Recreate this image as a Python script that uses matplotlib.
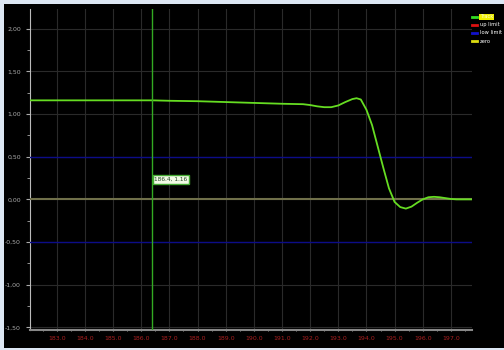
import numpy as np
import matplotlib.pyplot as plt
from matplotlib.patches import Rectangle
from matplotlib.lines import Line2D
from matplotlib.ticker import MultipleLocator, FuncFormatter

# track signal
track_x = [182.05, 183.0, 184.0, 185.0, 186.0, 186.4, 187.0, 188.0, 189.0, 190.0,
           191.0, 191.75, 192.0, 192.25, 192.5, 192.75, 193.0, 193.25, 193.5, 193.65,
           193.8, 194.0, 194.2, 194.4, 194.6, 194.8, 195.0, 195.2, 195.4, 195.6,
           195.8, 196.0, 196.2, 196.4, 196.6, 196.8, 197.0, 197.2, 197.75]
track_y = [1.16, 1.16, 1.16, 1.16, 1.16, 1.16, 1.155, 1.15, 1.14, 1.13,
           1.12, 1.115, 1.105, 1.09, 1.08, 1.08, 1.10, 1.14, 1.175, 1.185,
           1.17, 1.05, 0.87, 0.62, 0.37, 0.13, -0.03, -0.09, -0.108, -0.085,
           -0.04, 0.0, 0.025, 0.03, 0.025, 0.015, 0.005, 0.0, 0.0]

low_limit = [0.5, -0.5]
zero = 0.0
cursor_x, cursor_y = 186.4, 1.16
legend_labels = ['Track', 'up limit', 'low limit', 'zero']
legend_colors = ['#33dd22', '#dd1111', '#1111cc', '#dddd11']

fig = plt.figure(figsize=(5.04, 3.5), dpi=100, facecolor='#dde7f4')
fig.patches.append(Rectangle((4 / 504, 2 / 350), 1, 344 / 350, transform=fig.transFigure,
                             facecolor='black', edgecolor='none', zorder=-5))

ax = fig.add_axes([30 / 504, 20 / 350, 442 / 504, 321 / 350])
ax.set_facecolor('black')
ax.set_xlim(182.05, 197.75)
ax.set_ylim(-1.53, 2.23)

ax.xaxis.set_major_locator(MultipleLocator(1.0))
ax.xaxis.set_minor_locator(MultipleLocator(0.5))
ax.yaxis.set_major_locator(MultipleLocator(0.5))
ax.yaxis.set_minor_locator(MultipleLocator(0.25))
ax.xaxis.set_major_formatter(FuncFormatter(lambda v, p: f"{v:.1f}"))
ax.yaxis.set_major_formatter(FuncFormatter(lambda v, p: f"{v:.2f}".replace('.', ',')))
ax.grid(True, which='major', color='#2a2a2a', linewidth=0.8)

for s in ['top', 'right']:
    ax.spines[s].set_visible(False)
ax.spines['left'].set_color('#bbbbbb')
ax.spines['bottom'].set_color('#888888')
ax.spines['bottom'].set_linewidth(1.5)
ax.tick_params(axis='y', which='both', colors='#aaaaaa', labelsize=4.5, length=3)
ax.tick_params(axis='y', which='minor', length=2)
ax.tick_params(axis='x', which='both', colors='#aaaaaa', labelcolor='#aa2020',
               labelsize=4.5, length=2, direction='inout')

for v in low_limit:
    ax.axhline(v, color='#0c0c88', linewidth=1, zorder=3)
ax.axhline(zero, color='#70704a', linewidth=1.5, zorder=3)
ax.plot(track_x, track_y, color='#66dd22', linewidth=1.3, zorder=5)
ax.axvline(cursor_x, color='#33aa22', linewidth=1, zorder=6)
ax.text(cursor_x + 0.07, 0.23, f"{cursor_x}, {cursor_y:.2f}",
        fontsize=4.2, color='#224422', zorder=7, va='center',
        bbox=dict(facecolor='#f2fbe6', edgecolor='#44aa33', linewidth=1, boxstyle='square,pad=0.3'))

handles = [Line2D([], [], color=c, linewidth=2) for c in legend_colors]
leg = ax.legend(handles, legend_labels, loc='upper left',
                bbox_to_anchor=(0.998, 0.985), frameon=False, fontsize=3.7,
                handlelength=1.1, handletextpad=0.5, labelspacing=0.6, borderaxespad=0.05,
                borderpad=0.05)
for t in leg.get_texts():
    t.set_color('white')
leg.get_texts()[0].set_color('#f8f8d0')
leg.get_texts()[0].set_bbox(dict(facecolor='#eeee00', edgecolor='none', pad=0.4))

fig.savefig('out.png', dpi=100, facecolor=fig.get_facecolor())
